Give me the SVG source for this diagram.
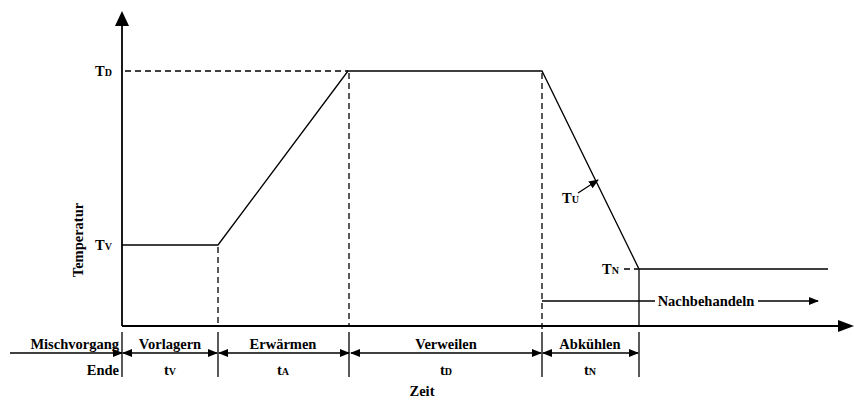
<svg xmlns="http://www.w3.org/2000/svg" width="854" height="401" viewBox="0 0 854 401">
<defs>
<marker id="ah" markerWidth="10" markerHeight="8" refX="9" refY="4" orient="auto-start-reverse" markerUnits="userSpaceOnUse"><path d="M0,0 L10,4 L0,8 Z" fill="#000"/></marker>
<style>
.t{font-family:"Liberation Serif","Times New Roman",serif;font-weight:bold;font-size:14.5px;fill:#000}
.s{font-size:10px}
.ln{stroke:#000;stroke-width:1.3;fill:none}
.ax{stroke:#000;stroke-width:1.8;fill:none}
.ds{stroke:#000;stroke-width:1.3;stroke-dasharray:6,4;fill:none}
</style>
</defs>
<g id="axes">
<line class="ax" x1="122" y1="22" x2="122" y2="326"/>
<path d="M115,26 L122,11 L129,26 Z" fill="#000"/>
<line class="ax" x1="122" y1="326" x2="842" y2="326"/>
<path d="M838,320 L854,326 L838,332 Z" fill="#000"/>
</g>
<g id="curve">
<polyline class="ln" points="122,245 218,245 348,71 542,71 639,269 828,269"/>
<line class="ln" x1="639" y1="269" x2="639" y2="326"/>
</g>
<g id="guides">
<line class="ds" x1="125" y1="71" x2="348" y2="71"/>
<line class="ds" x1="218" y1="247" x2="218" y2="326"/>
<line class="ds" x1="349" y1="73" x2="349" y2="326"/>
<line class="ds" x1="542" y1="73" x2="542" y2="330"/>
<line class="ds" x1="624" y1="269" x2="638" y2="269"/>
</g>
<g id="connectors">
<line class="ln" x1="542" y1="301" x2="655" y2="301"/>
<line class="ln" x1="758" y1="301" x2="818" y2="301" marker-end="url(#ah)"/>
<line class="ln" x1="578" y1="193" x2="598" y2="180" marker-end="url(#ah)"/>
<line class="ln" x1="10" y1="353" x2="122" y2="353" marker-end="url(#ah)"/>
<line class="ln" x1="123" y1="353" x2="217" y2="353" marker-start="url(#ah)" marker-end="url(#ah)"/>
<line class="ln" x1="219" y1="353" x2="349" y2="353" marker-start="url(#ah)" marker-end="url(#ah)"/>
<line class="ln" x1="351" y1="353" x2="541" y2="353" marker-start="url(#ah)" marker-end="url(#ah)"/>
<line class="ln" x1="543" y1="353" x2="638" y2="353" marker-start="url(#ah)" marker-end="url(#ah)"/>
</g>
<g id="separators">
<line class="ln" x1="122" y1="332" x2="122" y2="377"/>
<line class="ln" x1="218" y1="332" x2="218" y2="377"/>
<line class="ln" x1="349" y1="332" x2="349" y2="377"/>
<line class="ln" x1="542" y1="332" x2="542" y2="377"/>
<line class="ln" x1="639" y1="332" x2="639" y2="377"/>
</g>
<g id="labels">
<text class="t" x="95" y="76">T<tspan class="s">D</tspan></text>
<text class="t" x="95" y="250">T<tspan class="s">V</tspan></text>
<text class="t" x="562" y="203">T<tspan class="s">U</tspan></text>
<text class="t" x="602" y="274">T<tspan class="s">N</tspan></text>
<text class="t" x="0" y="0" text-anchor="middle" transform="translate(83,240) rotate(-90)">Temperatur</text>
<text class="t" x="706" y="306" text-anchor="middle">Nachbehandeln</text>
<text class="t" x="119" y="349" text-anchor="end">Mischvorgang</text>
<text class="t" x="119" y="375" text-anchor="end">Ende</text>
<text class="t" x="170" y="349" text-anchor="middle">Vorlagern</text>
<text class="t" x="170" y="375" text-anchor="middle">t<tspan class="s">V</tspan></text>
<text class="t" x="283" y="349" text-anchor="middle">Erwärmen</text>
<text class="t" x="283" y="375" text-anchor="middle">t<tspan class="s">A</tspan></text>
<text class="t" x="446" y="349" text-anchor="middle">Verweilen</text>
<text class="t" x="446" y="375" text-anchor="middle">t<tspan class="s">D</tspan></text>
<text class="t" x="590" y="349" text-anchor="middle">Abkühlen</text>
<text class="t" x="590" y="375" text-anchor="middle">t<tspan class="s">N</tspan></text>
<text class="t" x="422" y="396" text-anchor="middle">Zeit</text>
</g>
</svg>
